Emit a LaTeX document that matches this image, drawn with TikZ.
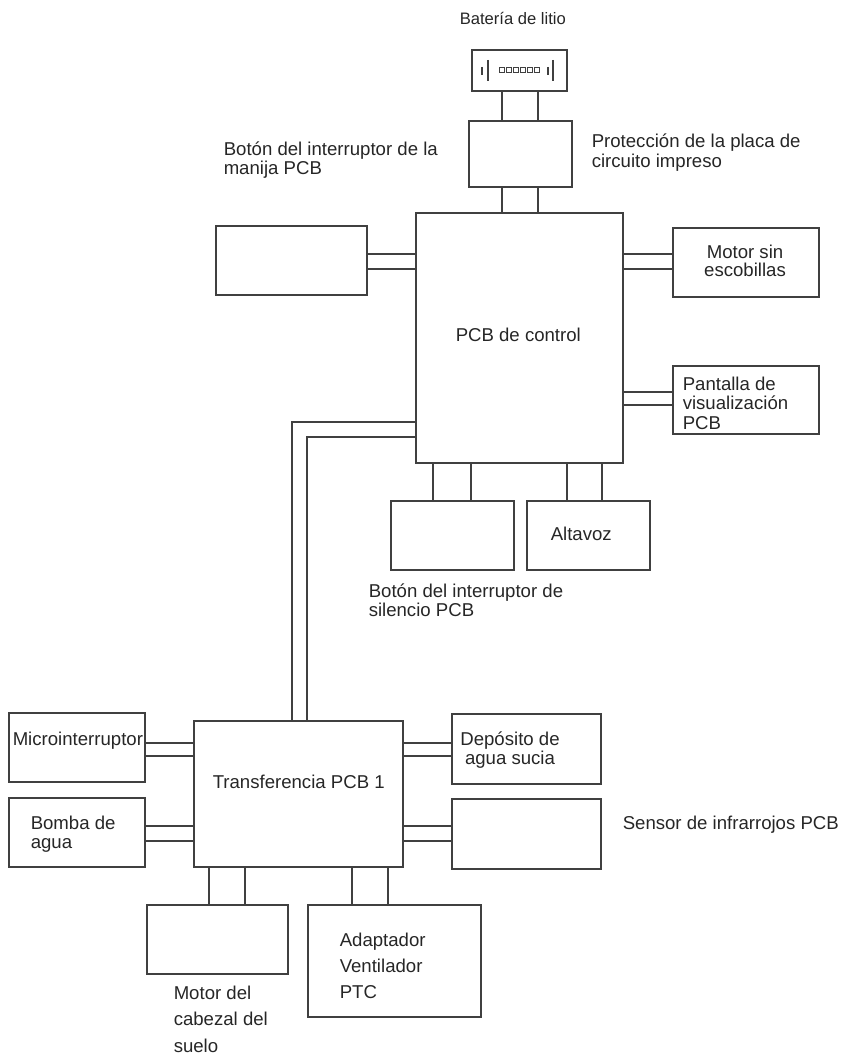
\documentclass[tikz,border=0pt]{standalone}
\usepackage{fontspec}
\setmainfont{Liberation Sans}
\usetikzlibrary{calc,positioning}
\definecolor{wirecol}{HTML}{404040}
\definecolor{txtcol}{HTML}{262626}
\tikzset{
	block diagram/.style={x=1pt, y=-1pt, line width=1.5pt, draw=wirecol},
	bk/.style={draw=wirecol, line width=1.6pt, rectangle, inner sep=0pt, outer sep=0pt},
	wire/.style={draw=wirecol, line width=1.6pt},
	lsp/.style={font=\fontsize{18.6}{#1}\selectfont},
	label/.style={text=txtcol, lsp=18.5, align=left, anchor=west, inner sep=0pt},
	mid label/.style={label, align=center, anchor=center}
}
% box from its corners: name, left, top, right, bottom
\newcommand{\bkbox}[5]{\node[bk, minimum width={(#4-#2)*1pt}, minimum height={(#5-#3)*1pt}] (#1) at ({(#2+#4)/2},{(#3+#5)/2}) {};}
\begin{document}
\begin{tikzpicture}[block diagram]
	\useasboundingbox (0,0) rectangle (845,1056);
	\bkbox{bat}{472}{50}{567}{91}
	\bkbox{prot}{469}{121}{572}{187}
	\bkbox{ctrl}{416}{213}{623}{463}
	\bkbox{hdl}{216}{226}{367}{295}
	\bkbox{mot}{673}{228}{819}{297}
	\bkbox{disp}{673}{366}{819}{434}
	\bkbox{mute}{391}{501}{514}{570}
	\bkbox{spk}{527}{501}{650}{570}
	\bkbox{xfer}{194}{721}{403}{867}
	\bkbox{micro}{9}{713}{145}{782}
	\bkbox{pump}{9}{798}{145}{867}
	\bkbox{tank}{452}{714}{601}{784}
	\bkbox{ir}{452}{799}{601}{869}
	\bkbox{head}{147}{905}{288}{974}
	\bkbox{adpt}{308}{905}{481}{1017}
	% battery symbol
	\draw[wire,line width=1.3pt] (482,67) -- (482,75) (488,60) -- (488,81) (548,67) -- (548,75) (553,60) -- (553,81);
	\foreach \i in {0,...,5}
		\draw[wire,line width=.9pt] ({499+\i*7},67) rectangle ++(5,5);
	% vertical pairs
	\foreach \wx in {502,538} {
		\draw[wire] (\wx,0 |- bat.south) -- (\wx,0 |- prot.north);
		\draw[wire] (\wx,0 |- prot.south) -- (\wx,0 |- ctrl.north);
	}
	\foreach \wx in {433,471}
		\draw[wire] (\wx,0 |- ctrl.south) -- (\wx,0 |- mute.north);
	\foreach \wx in {567,602}
		\draw[wire] (\wx,0 |- ctrl.south) -- (\wx,0 |- spk.north);
	\foreach \wx in {209,245}
		\draw[wire] (\wx,0 |- xfer.south) -- (\wx,0 |- head.north);
	\foreach \wx in {352,388}
		\draw[wire] (\wx,0 |- xfer.south) -- (\wx,0 |- adpt.north);
	% horizontal pairs
	\foreach \wy in {254,269} {
		\draw[wire] (hdl.east |- 0,\wy) -- (ctrl.west |- 0,\wy);
		\draw[wire] (ctrl.east |- 0,\wy) -- (mot.west |- 0,\wy);
	}
	\foreach \wy in {392,405}
		\draw[wire] (ctrl.east |- 0,\wy) -- (disp.west |- 0,\wy);
	\foreach \wy in {743,756} {
		\draw[wire] (micro.east |- 0,\wy) -- (xfer.west |- 0,\wy);
		\draw[wire] (xfer.east |- 0,\wy) -- (tank.west |- 0,\wy);
	}
	\foreach \wy in {826,841} {
		\draw[wire] (pump.east |- 0,\wy) -- (xfer.west |- 0,\wy);
		\draw[wire] (xfer.east |- 0,\wy) -- (ir.west |- 0,\wy);
	}
	% long run between the two boards
	\draw[wire] (ctrl.west |- 0,422) -- (292,422) -- (292,0 |- xfer.north);
	\draw[wire] (ctrl.west |- 0,437) -- (307,437) -- (307,0 |- xfer.north);
	% labels
	\node[label,font=\fontsize{16.6}{21}\selectfont] (lbat) at (459,18) {Batería de litio};
	\node[label,lsp=20] (lprot) at (591,153) {Protección de la placa de\\circuito impreso};
	\node[label] (lhdl) at (223,160) {Botón del interruptor de la\\manija PCB};
	\node[mid label] (lmot) at (745,261) {Motor sin\\escobillas};
	\node[label] (lctrl) at (455,335) {PCB de control};
	\node[label,lsp=19.5] (ldisp) at (682,403) {Pantalla de\\visualización\\PCB};
	\node[label] (lspk) at (550,534) {Altavoz};
	\node[label] (lmute) at (368,600) {Botón del interruptor de\\silencio PCB};
	\node[label] (lmicro) at (12,741) {Microinterruptor};
	\node[label] (lxfer) at (212,782) {Transferencia PCB 1};
	\node[mid label,lsp=19] (ltank) at (510,750) {Depósito de\\agua sucia};
	\node[label,lsp=19] (lpump) at (30,834) {Bomba de\\agua};
	\node[label] (lir) at (622,825) {Sensor de infrarrojos PCB};
	\node[label,lsp=26] (ladpt) at (339,966) {Adaptador\\Ventilador\\PTC};
	\node[label,lsp=26.5] (lhead) at (173,1019) {Motor del\\cabezal del\\suelo};
\end{tikzpicture}
\end{document}
